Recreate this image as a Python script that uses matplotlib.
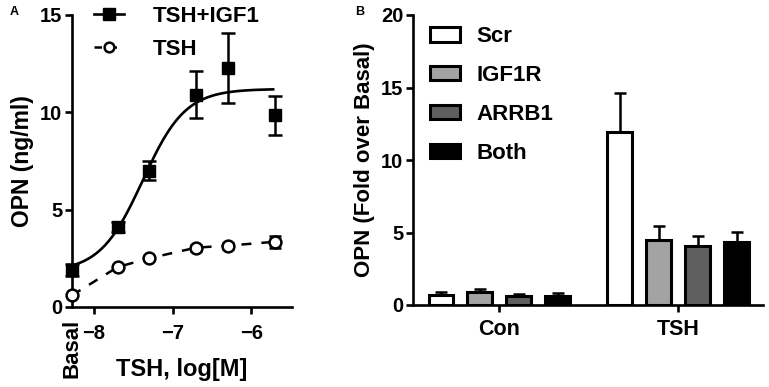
import matplotlib
matplotlib.use('Agg')
import numpy as np
import matplotlib.pyplot as plt
import matplotlib.transforms as mtransforms

plt.rcParams['font.family'] = ['Liberation Sans', 'DejaVu Sans']
plt.rcParams['font.weight'] = 'bold'
plt.rcParams['axes.labelweight'] = 'bold'

# panel A: dose response
dose_log = [-8.28, -7.7, -7.3, -6.7, -6.3, -5.7]
tsh_igf1 = [1.9, 4.1, 7.0, 10.9, 12.3, 9.85]
tsh_igf1_err = [0.3, 0.25, 0.5, 1.2, 1.8, 1.0]
tsh_only = [0.6, 2.05, 2.5, 3.05, 3.15, 3.35]
tsh_only_err = [0.1, 0.1, 0.1, 0.15, 0.15, 0.3]
# hill fit for TSH+IGF1
fit_bottom, fit_top, fit_logec50, fit_hill = 1.8, 11.2, -7.38, 1.6

# panel B: knockdowns
groups = ['Con', 'TSH']
sirna = ['Scr', 'IGF1R', 'ARRB1', 'Both']
colors = ['white', '#a3a3a3', '#5f5f5f', 'black']
con_vals = [0.72, 0.93, 0.6, 0.64]
con_err = [0.18, 0.2, 0.18, 0.2]
tsh_vals = [11.9, 4.5, 4.1, 4.35]
tsh_err = [2.7, 0.95, 0.65, 0.7]

fig = plt.figure(figsize=(7.69, 3.87), dpi=100)
axA = fig.add_axes([72/769, 1-307/387, (292-72)/769, 292/387])
axB = fig.add_axes([413/769, 1-305/387, (763-413)/769, 290/387])

lw = 1.9
for ax in (axA, axB):
    ax.spines['top'].set_visible(False)
    ax.spines['right'].set_visible(False)
    ax.spines['left'].set_linewidth(lw)
    ax.spines['bottom'].set_linewidth(lw)
    ax.tick_params(width=lw, length=5, labelsize=14.5, direction='out', pad=2)

# --- A ---
xx = np.linspace(dose_log[0], -5.72, 200)
yy = fit_bottom + (fit_top - fit_bottom) / (1 + 10 ** ((fit_logec50 - xx) * fit_hill))
axA.plot(xx, yy, color='black', lw=1.9, zorder=2)
axA.errorbar(dose_log, tsh_igf1, yerr=tsh_igf1_err, fmt='s', color='black', ms=8,
             capsize=5, elinewidth=1.8, capthick=1.8, zorder=3, clip_on=False)
axA.errorbar(dose_log, tsh_only, yerr=tsh_only_err, fmt='o', ls=(0, (4, 4)), color='black',
             mfc='white', mec='black', mew=1.8, ms=8.5, lw=1.8, capsize=4,
             elinewidth=1.8, capthick=1.8, zorder=3, clip_on=False)
axA.set_xlim(-8.28, -5.48)
axA.set_ylim(0, 15)
axA.set_xticks([-8, -7, -6])
axA.set_yticks([0, 5, 10, 15])
axA.tick_params(axis='x', pad=7)
axA.set_ylabel('OPN (ng/ml)', fontsize=16.5, labelpad=4)
axA.set_xlabel('TSH, log[M]', fontsize=17, labelpad=11)
trans = mtransforms.blended_transform_factory(axA.transData, axA.transAxes)
axA.text(-8.28, -0.04, 'Basal', rotation=90, ha='center', va='top',
         fontsize=16, transform=trans)

h1 = axA.errorbar([], [], fmt='s-', color='black', ms=8, lw=1.9)
h2 = axA.errorbar([], [], fmt='o', ls=(0, (3, 3)), color='black', mfc='white', ms=7, mew=1.8, lw=1.8)
axA.legend([h1, h2], ['TSH+IGF1', 'TSH'], loc='upper left', bbox_to_anchor=(0.01, 1.1),
           frameon=False, fontsize=16, handlelength=1.35, handletextpad=1.3, labelspacing=0.55)
fig.text(10/769, 1-12/387, 'A', fontsize=9, fontweight='bold', ha='left', va='center')

# --- B ---
spacing = 1.0
offset = 4.6
width = 0.64
for i, name in enumerate(sirna):
    pos = [i * spacing, offset + i * spacing]
    vals = [con_vals[i], tsh_vals[i]]
    errs = [con_err[i], tsh_err[i]]
    axB.bar(pos, vals, width=width, color=colors[i], edgecolor='black', linewidth=2.2,
            label=name, zorder=2)
    axB.errorbar(pos, vals, yerr=[[0, 0], errs], fmt='none', ecolor='black',
                 elinewidth=1.8, capsize=4.5, capthick=1.8, zorder=1)
axB.set_xlim(-0.72, 8.28)
axB.set_ylim(0, 20)
axB.set_yticks([0, 5, 10, 15, 20])
axB.set_xticks([1.5, offset + 1.5])
axB.set_xticklabels(groups, fontsize=15.5)
axB.tick_params(axis='x', pad=5)
axB.set_ylabel('OPN (Fold over Basal)', fontsize=16, labelpad=4)
axB.legend(loc='upper left', bbox_to_anchor=(-0.01, 1.03), frameon=False, fontsize=16,
           handlelength=1.35, handleheight=0.6, handletextpad=0.75, labelspacing=0.8)
fig.text(355/769, 1-12/387, 'B', fontsize=9, fontweight='bold', ha='left', va='center')

fig.savefig('out.png', dpi=100)
